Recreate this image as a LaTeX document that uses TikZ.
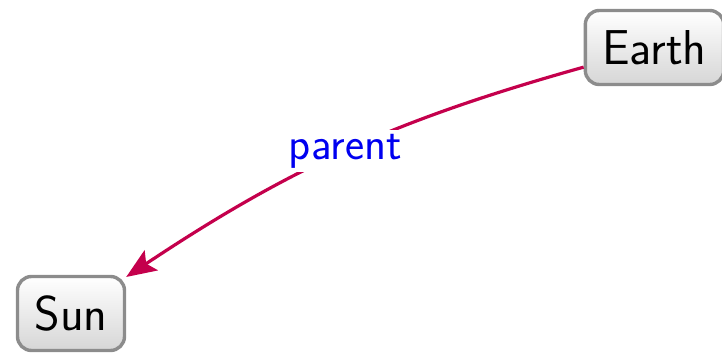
\documentclass[tikz,border=0pt]{standalone}
\usepackage{xcolor}
\usepackage{tikz}
\usetikzlibrary{arrows.meta, positioning}
\definecolor{kedgered}{HTML}{C4004C}
\definecolor{kboxgray}{HTML}{8C8C8C}
\definecolor{kshade}{HTML}{D6D6D6}
\definecolor{klabelblue}{HTML}{0000F0}
\begin{document}
\begin{tikzpicture}[x=0.5pt, y=0.5pt,
  body/.style={draw=kboxgray, line width=1.7pt, rounded corners=7pt,
    top color=white, bottom color=kshade,
    font=\sffamily\fontsize{24.5}{29}\selectfont,
    inner xsep=8.5pt, minimum height=37pt},
  relation/.style={draw=kedgered, line width=1.6pt,
    -{Stealth[length=15pt, width=12pt, inset=3pt]}},
  rellabel/.style={fill=white, text=klabelblue,
    font=\sffamily\fontsize{22.8}{27}\selectfont, inner sep=2pt}]

  \useasboundingbox (0,0) rectangle (722,353);

  %% bodies
  \node[body] (earth) at (654.5,305.5) {Earth};
  \node[body] (sun) at (71,39.5) {Sun};

  %% link
  \draw[relation] (earth) to[bend right=9] node[rellabel] {parent} (sun);

\end{tikzpicture}
\end{document}
